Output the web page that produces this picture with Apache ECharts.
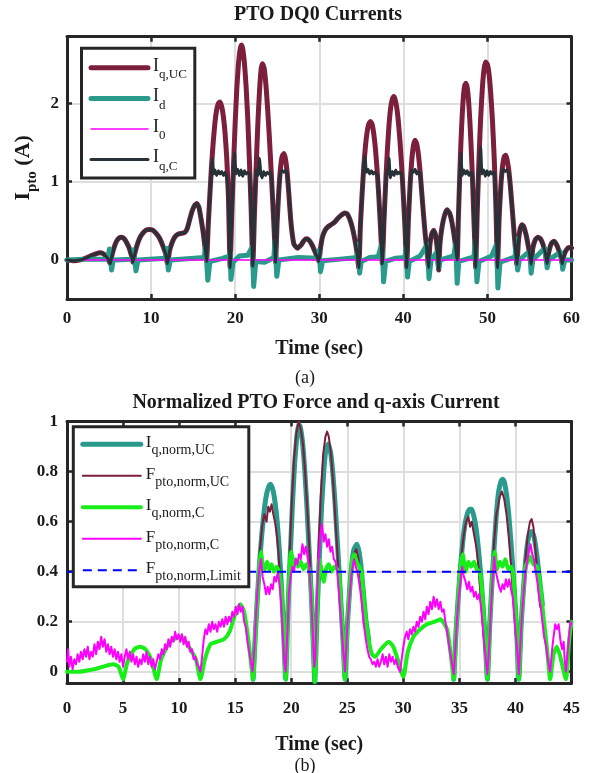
<!DOCTYPE html>
<html><head><meta charset="utf-8">
<script src="https://cdn.jsdelivr.net/npm/echarts@6/dist/echarts.min.js"></script>
<style>html,body{margin:0;padding:0;background:#fff}#c{width:595px;height:773px}</style>
</head><body><div id="c"></div><script>
// ---------- (a) PTO DQ0 currents : [time s, current A] ----------
const iqUC = [[0,0],[0.8,-0.01],[1.6,0],[2.4,0.03],[3.0,0.06],[3.5,0.08],[3.9,0.09],[4.3,0.08],[4.6,0.05],[4.9,0.01],[5.15,-0.05],[5.35,0.06],[5.6,0.16],[5.9,0.24],[6.2,0.28],[6.5,0.29],[6.8,0.27],[7.1,0.22],[7.4,0.15],[7.65,0.06],[7.85,-0.03],[8.1,0.1],[8.4,0.21],[8.7,0.29],[9.0,0.34],[9.4,0.38],[9.8,0.39],[10.2,0.38],[10.6,0.34],[11.0,0.28],[11.4,0.18],[11.7,0.09],[11.95,-0.05],[12.2,0.12],[12.5,0.22],[12.8,0.29],[13.2,0.33],[13.6,0.34],[14.0,0.35],[14.3,0.4],[14.6,0.52],[14.9,0.63],[15.2,0.7],[15.45,0.72],[15.7,0.67],[15.95,0.52],[16.2,0.35],[16.4,0.17],[16.6,-0.02],[16.8,0.45],[17.0,0.85],[17.2,1.22],[17.4,1.52],[17.6,1.76],[17.8,1.92],[18.0,2.0],[18.2,2.02],[18.4,1.96],[18.6,1.83],[18.8,1.62],[19.0,1.3],[19.2,0.8],[19.4,-0.1],[19.6,0.6],[19.8,1.2],[20.0,1.75],[20.2,2.2],[20.4,2.52],[20.6,2.7],[20.75,2.75],[20.9,2.7],[21.1,2.52],[21.3,2.22],[21.5,1.8],[21.7,1.25],[21.9,0.65],[22.1,-0.08],[22.3,0.6],[22.5,1.2],[22.7,1.75],[22.9,2.17],[23.1,2.45],[23.25,2.51],[23.45,2.45],[23.65,2.25],[23.85,1.95],[24.05,1.6],[24.25,1.2],[24.45,0.78],[24.65,0.35],[24.8,-0.03],[25.0,0.5],[25.2,0.9],[25.4,1.18],[25.6,1.33],[25.8,1.36],[26.0,1.28],[26.2,1.1],[26.4,0.82],[26.6,0.52],[26.8,0.32],[27.0,0.2],[27.4,0.15],[27.9,0.2],[28.2,0.25],[28.5,0.27],[28.8,0.25],[29.1,0.2],[29.4,0.13],[29.7,0.05],[29.95,-0.02],[30.15,0.15],[30.4,0.3],[30.7,0.38],[31.0,0.42],[31.4,0.45],[31.8,0.48],[32.2,0.53],[32.6,0.57],[33.0,0.6],[33.3,0.59],[33.6,0.53],[33.9,0.43],[34.2,0.28],[34.45,0.12],[34.7,-0.1],[34.9,0.45],[35.1,0.85],[35.3,1.2],[35.5,1.46],[35.7,1.64],[35.9,1.74],[36.1,1.77],[36.3,1.73],[36.5,1.6],[36.7,1.4],[36.9,1.12],[37.1,0.78],[37.3,0.38],[37.5,-0.05],[37.7,0.5],[37.9,0.98],[38.1,1.4],[38.3,1.73],[38.5,1.95],[38.7,2.06],[38.85,2.09],[39.0,2.06],[39.2,1.96],[39.4,1.78],[39.6,1.52],[39.8,1.2],[40.0,0.82],[40.2,0.4],[40.4,-0.1],[40.6,0.5],[40.8,0.95],[41.0,1.27],[41.2,1.46],[41.4,1.53],[41.6,1.48],[41.8,1.34],[42.0,1.12],[42.2,0.85],[42.4,0.58],[42.6,0.33],[42.8,0.12],[43.0,-0.1],[43.15,0.18],[43.35,0.32],[43.6,0.38],[43.8,0.33],[44.0,0.18],[44.2,-0.13],[44.35,0.2],[44.6,0.42],[44.9,0.57],[45.2,0.64],[45.5,0.6],[45.8,0.47],[46.1,0.27],[46.4,0.0],[46.55,0.55],[46.7,1.05],[46.85,1.5],[47.0,1.85],[47.15,2.1],[47.3,2.23],[47.45,2.26],[47.6,2.2],[47.75,2.05],[47.9,1.8],[48.05,1.48],[48.2,1.1],[48.35,0.65],[48.5,0.2],[48.6,-0.1],[48.8,0.65],[49.0,1.3],[49.2,1.82],[49.4,2.2],[49.6,2.44],[49.8,2.53],[50.0,2.5],[50.2,2.37],[50.4,2.12],[50.6,1.78],[50.8,1.32],[51.0,0.72],[51.2,-0.1],[51.4,0.55],[51.6,0.95],[51.8,1.2],[52.0,1.32],[52.15,1.34],[52.3,1.3],[52.5,1.18],[52.7,0.98],[52.9,0.72],[53.1,0.45],[53.3,0.18],[53.5,-0.06],[53.7,0.25],[53.9,0.4],[54.1,0.45],[54.3,0.43],[54.6,0.32],[54.9,0.15],[55.2,-0.06],[55.4,0.15],[55.7,0.26],[56.0,0.29],[56.3,0.27],[56.6,0.2],[56.9,0.08],[57.1,-0.05],[57.3,0.1],[57.6,0.21],[57.9,0.24],[58.2,0.2],[58.5,0.12],[58.75,0.03],[58.9,-0.05],[59.1,0.06],[59.4,0.13],[59.7,0.16],[60,0.15]];
const iqC = [[0,0],[0.8,-0.01],[1.6,0],[2.4,0.03],[3.0,0.06],[3.5,0.08],[3.9,0.09],[4.3,0.08],[4.6,0.05],[4.9,0.01],[5.15,-0.05],[5.35,0.06],[5.6,0.16],[5.9,0.24],[6.2,0.28],[6.5,0.29],[6.8,0.27],[7.1,0.22],[7.4,0.15],[7.65,0.06],[7.85,-0.03],[8.1,0.1],[8.4,0.21],[8.7,0.29],[9.0,0.34],[9.4,0.38],[9.8,0.39],[10.2,0.38],[10.6,0.34],[11.0,0.28],[11.4,0.18],[11.7,0.09],[11.95,-0.05],[12.2,0.12],[12.5,0.22],[12.8,0.29],[13.2,0.33],[13.6,0.34],[14.0,0.35],[14.3,0.4],[14.6,0.52],[14.9,0.63],[15.2,0.7],[15.45,0.72],[15.7,0.67],[15.95,0.52],[16.2,0.35],[16.4,0.17],[16.6,-0.02],[16.8,0.45],[17.0,0.85],[17.15,1.1],[17.3,1.3],[17.45,1.1],[17.6,1.15],[17.8,1.08],[18.0,1.14],[18.2,1.1],[18.4,1.13],[18.6,1.08],[18.8,1.12],[19.0,1.05],[19.2,0.8],[19.4,-0.1],[19.6,0.6],[19.8,1.15],[19.95,1.37],[20.1,1.1],[20.3,1.16],[20.5,1.08],[20.7,1.15],[20.9,1.07],[21.1,1.14],[21.3,1.1],[21.5,1.12],[21.7,1.1],[21.9,0.65],[22.1,-0.08],[22.3,0.6],[22.5,1.15],[22.7,1.08],[22.9,1.3],[23.05,1.1],[23.2,1.05],[23.4,1.13],[23.6,1.08],[23.8,1.12],[24.0,1.1],[24.25,1.12],[24.45,0.78],[24.65,0.35],[24.8,-0.03],[25.0,0.5],[25.2,0.9],[25.4,1.12],[25.6,1.14],[25.8,1.12],[26.0,1.15],[26.2,1.1],[26.4,0.82],[26.6,0.52],[26.8,0.32],[27.0,0.2],[27.4,0.15],[27.9,0.2],[28.2,0.25],[28.5,0.27],[28.8,0.25],[29.1,0.2],[29.4,0.13],[29.7,0.05],[29.95,-0.02],[30.15,0.15],[30.4,0.3],[30.7,0.38],[31.0,0.42],[31.4,0.45],[31.8,0.48],[32.2,0.53],[32.6,0.57],[33.0,0.6],[33.3,0.59],[33.6,0.53],[33.9,0.43],[34.2,0.28],[34.45,0.12],[34.7,-0.1],[34.9,0.45],[35.1,0.85],[35.3,1.2],[35.45,1.33],[35.6,1.12],[35.8,1.16],[36.0,1.1],[36.2,1.14],[36.4,1.1],[36.6,1.12],[36.8,1.1],[36.95,1.08],[37.1,0.78],[37.3,0.38],[37.5,-0.05],[37.7,0.5],[37.9,0.98],[38.05,1.15],[38.15,1.1],[38.3,1.3],[38.45,1.05],[38.7,1.13],[38.9,1.08],[39.1,1.15],[39.3,1.1],[39.5,1.12],[39.7,1.1],[39.8,1.12],[40.0,0.82],[40.2,0.4],[40.4,-0.1],[40.6,0.5],[40.8,0.95],[40.95,1.15],[41.2,1.12],[41.4,1.16],[41.6,1.1],[41.8,1.13],[42.0,1.1],[42.2,0.85],[42.4,0.58],[42.6,0.33],[42.8,0.12],[43.0,-0.1],[43.15,0.18],[43.35,0.32],[43.6,0.38],[43.8,0.33],[44.0,0.18],[44.2,-0.13],[44.35,0.2],[44.6,0.42],[44.9,0.57],[45.2,0.64],[45.5,0.6],[45.8,0.47],[46.1,0.27],[46.4,0.0],[46.55,0.55],[46.7,1.05],[46.85,1.37],[47.0,1.08],[47.2,1.15],[47.4,1.1],[47.6,1.14],[47.8,1.08],[48.0,1.12],[48.2,1.1],[48.35,0.65],[48.5,0.2],[48.6,-0.1],[48.8,0.65],[48.95,1.1],[49.05,1.2],[49.2,1.44],[49.35,1.1],[49.55,1.15],[49.75,1.07],[49.95,1.14],[50.15,1.08],[50.35,1.13],[50.55,1.1],[50.75,1.12],[50.85,1.1],[51.0,0.72],[51.2,-0.1],[51.4,0.55],[51.6,0.95],[51.75,1.12],[51.9,1.16],[52.1,1.13],[52.3,1.15],[52.5,1.12],[52.7,0.98],[52.9,0.72],[53.1,0.45],[53.3,0.18],[53.5,-0.06],[53.7,0.25],[53.9,0.4],[54.1,0.45],[54.3,0.43],[54.6,0.32],[54.9,0.15],[55.2,-0.06],[55.4,0.15],[55.7,0.26],[56.0,0.29],[56.3,0.27],[56.6,0.2],[56.9,0.08],[57.1,-0.05],[57.3,0.1],[57.6,0.21],[57.9,0.24],[58.2,0.2],[58.5,0.12],[58.75,0.03],[58.9,-0.05],[59.1,0.06],[59.4,0.13],[59.7,0.16],[60,0.15]];
const idCur = [[0,0],[2,0.01],[4.8,0.01],[5.05,0.14],[5.2,0.0],[5.3,-0.13],[5.5,0.0],[7.7,0.01],[7.9,0.13],[8.05,0.0],[8.2,-0.14],[8.45,0.0],[11.7,0.02],[11.85,0.15],[11.95,0.0],[12.05,-0.13],[12.3,0.0],[16.3,0.03],[16.5,0.19],[16.6,0.0],[16.75,-0.26],[17.0,-0.02],[18.5,0.02],[19.3,0.05],[19.4,0.1],[19.5,-0.25],[19.75,-0.03],[20.5,0.05],[21.5,0.06],[21.95,0.15],[22.1,0.0],[22.2,-0.34],[22.45,-0.02],[23.5,-0.03],[24.6,0.03],[24.75,0.26],[24.85,0.0],[24.95,-0.21],[25.2,0.0],[27.5,0.03],[29.8,0.02],[29.95,0.12],[30.05,0.0],[30.15,-0.15],[30.4,-0.01],[32.5,0.01],[34.5,0.03],[34.6,0.2],[34.7,0.0],[34.8,-0.17],[35.0,-0.02],[36.0,0.03],[37.0,0.04],[37.45,0.21],[37.55,0.0],[37.65,-0.28],[37.9,-0.02],[39.0,0.02],[40.2,0.03],[40.3,0.15],[40.4,0.0],[40.5,-0.22],[40.7,-0.02],[42,0.05],[42.85,0.2],[42.95,0.0],[43.05,-0.24],[43.3,0.0],[44.0,0.1],[44.2,-0.1],[44.4,0.0],[46.0,0.05],[46.2,0.2],[46.3,0.0],[46.4,-0.3],[46.6,-0.02],[48.4,0.04],[48.55,0.25],[48.65,0.0],[48.75,-0.28],[49.0,-0.02],[50.5,0.05],[51.05,0.19],[51.15,0.0],[51.25,-0.36],[51.5,-0.03],[53.3,0.04],[53.4,0.27],[53.5,0.0],[53.6,-0.13],[53.8,0.0],[54.9,0.1],[55.1,0.0],[55.2,-0.17],[55.4,0.0],[56.8,0.15],[57.0,0.0],[57.1,-0.1],[57.3,0.0],[58.7,0.1],[58.85,0.0],[58.95,-0.12],[59.2,0.0],[60,0.0]];
const i0Cur = [[0,0],[60,0]];

// ---------- (b) normalized force and q-axis current : [time s, p.u.] ----------
const iqNormUC = [[16.6,-0.03],[16.8,0.15],[17.0,0.31],[17.2,0.45],[17.4,0.56],[17.6,0.65],[17.8,0.71],[18.0,0.74],[18.15,0.75],[18.35,0.73],[18.55,0.68],[18.75,0.6],[18.95,0.48],[19.15,0.32],[19.35,0.13],[19.5,-0.03],[19.7,0.24],[19.9,0.45],[20.1,0.66],[20.3,0.83],[20.5,0.94],[20.65,0.99],[20.8,0.98],[21.0,0.92],[21.2,0.81],[21.4,0.66],[21.6,0.48],[21.8,0.3],[21.95,0.13],[22.1,-0.04],[22.3,0.22],[22.5,0.45],[22.7,0.65],[22.9,0.8],[23.1,0.89],[23.3,0.91],[23.5,0.88],[23.7,0.8],[23.9,0.68],[24.1,0.53],[24.3,0.38],[24.5,0.22],[24.65,0.1],[24.8,-0.03],[25.0,0.18],[25.2,0.32],[25.4,0.43],[25.6,0.49],[25.85,0.51],[26.05,0.48],[26.25,0.41],[26.45,0.31],[26.65,0.21],[26.9,0.13],[26.9,null],[34.5,-0.03],[34.7,0.16],[34.9,0.3],[35.1,0.42],[35.3,0.52],[35.5,0.59],[35.7,0.63],[35.9,0.65],[36.1,0.65],[36.3,0.62],[36.5,0.57],[36.7,0.49],[36.9,0.39],[37.1,0.27],[37.3,0.13],[37.5,-0.03],[37.7,0.18],[37.9,0.35],[38.1,0.5],[38.3,0.63],[38.5,0.72],[38.7,0.76],[38.85,0.77],[39.0,0.76],[39.2,0.71],[39.4,0.63],[39.6,0.52],[39.8,0.39],[40.0,0.25],[40.15,0.12],[40.3,-0.03],[40.5,0.18],[40.7,0.32],[40.9,0.44],[41.1,0.52],[41.3,0.56],[41.5,0.56],[41.7,0.53],[41.9,0.47],[42.1,0.39],[42.3,0.31],[42.4,0.27]];
const fNormUC = [[16.85,0.22],[17.0,0.33],[17.2,0.48],[17.4,0.58],[17.6,0.63],[17.8,0.6],[17.95,0.66],[18.1,0.64],[18.25,0.67],[18.4,0.63],[18.55,0.6],[18.7,0.55],[18.85,0.48],[19.0,0.38],[19.15,0.26],[19.3,0.12],[19.5,0.0],[19.65,0.2],[19.85,0.46],[20.05,0.68],[20.25,0.85],[20.45,0.95],[20.65,1.0],[20.85,0.97],[21.05,0.91],[21.25,0.79],[21.45,0.64],[21.65,0.46],[21.85,0.26],[22.05,0.02],[22.25,0.24],[22.45,0.5],[22.65,0.72],[22.85,0.87],[23.05,0.94],[23.2,0.96],[23.35,0.94],[23.55,0.87],[23.75,0.75],[23.95,0.6],[24.15,0.45],[24.35,0.3],[24.55,0.15],[24.8,0.0],[25.0,0.18],[25.2,0.32],[25.4,0.42],[25.6,0.47],[25.8,0.49],[26.0,0.45],[26.2,0.35],[26.35,0.25],[26.5,0.18],[26.5,null],[34.8,0.22],[35.0,0.35],[35.2,0.47],[35.4,0.55],[35.6,0.6],[35.8,0.62],[35.95,0.58],[36.1,0.6],[36.3,0.55],[36.5,0.5],[36.7,0.42],[36.9,0.3],[37.1,0.18],[37.3,0.07],[37.5,-0.01],[37.7,0.15],[37.9,0.36],[38.1,0.52],[38.3,0.63],[38.45,0.66],[38.6,0.7],[38.8,0.72],[39.0,0.69],[39.2,0.63],[39.4,0.54],[39.6,0.43],[39.8,0.3],[40.0,0.17],[40.3,-0.01],[40.5,0.15],[40.7,0.32],[40.9,0.45],[41.1,0.55],[41.3,0.6],[41.45,0.61],[41.6,0.58],[41.8,0.48],[42.0,0.36],[42.2,0.26]];
const iqNormC = [[0,0],[1.0,0.0],[2.4,0.01],[3.2,0.02],[4.1,0.03],[4.6,0.02],[5.0,-0.03],[5.4,0.04],[6.0,0.09],[6.5,0.1],[7.0,0.09],[7.5,0.05],[8.0,-0.03],[8.4,0.05],[9.2,0.12],[10.1,0.14],[10.6,0.12],[11.0,0.09],[11.5,0.05],[11.9,-0.03],[12.3,0.05],[12.8,0.11],[13.4,0.12],[14.0,0.13],[14.5,0.16],[15.0,0.23],[15.45,0.27],[15.8,0.24],[16.2,0.12],[16.6,-0.03],[16.8,0.15],[17.0,0.31],[17.15,0.42],[17.3,0.48],[17.45,0.43],[17.65,0.41],[17.85,0.44],[18.05,0.41],[18.25,0.43],[18.45,0.4],[18.7,0.42],[18.9,0.4],[19.15,0.32],[19.35,0.13],[19.5,-0.03],[19.7,0.24],[19.9,0.45],[20.0,0.48],[20.2,0.42],[20.4,0.45],[20.6,0.42],[20.85,0.44],[21.1,0.41],[21.35,0.43],[21.6,0.41],[21.8,0.3],[21.95,0.13],[22.1,-0.04],[22.3,0.22],[22.5,0.45],[22.65,0.42],[22.9,0.36],[23.1,0.41],[23.35,0.43],[23.6,0.4],[23.85,0.42],[24.1,0.41],[24.3,0.38],[24.5,0.22],[24.65,0.1],[24.8,-0.03],[25.0,0.18],[25.2,0.32],[25.4,0.43],[25.6,0.47],[25.85,0.44],[26.05,0.42],[26.25,0.4],[26.45,0.31],[26.65,0.21],[26.9,0.13],[27.2,0.07],[27.5,0.06],[28.0,0.09],[28.7,0.12],[29.1,0.1],[29.5,0.05],[30.0,-0.02],[30.4,0.08],[30.9,0.14],[31.5,0.17],[32.1,0.19],[32.8,0.2],[33.3,0.21],[33.9,0.17],[34.2,0.08],[34.5,-0.03],[34.7,0.16],[34.9,0.3],[35.1,0.42],[35.3,0.47],[35.55,0.4],[35.8,0.44],[36.05,0.42],[36.3,0.44],[36.55,0.41],[36.8,0.4],[36.95,0.36],[37.1,0.27],[37.3,0.13],[37.5,-0.03],[37.7,0.18],[37.9,0.35],[38.05,0.45],[38.15,0.48],[38.35,0.41],[38.6,0.44],[38.85,0.42],[39.1,0.45],[39.35,0.41],[39.6,0.42],[39.8,0.39],[40.0,0.25],[40.15,0.12],[40.3,-0.03],[40.5,0.18],[40.7,0.32],[40.9,0.42],[41.1,0.44],[41.3,0.46],[41.6,0.43],[41.9,0.42],[42.1,0.38],[42.3,0.31],[42.5,0.22],[42.8,0.1],[43.1,-0.03],[43.4,0.07],[43.7,0.1],[44.0,0.06],[44.5,-0.03],[44.8,0.13],[45,0.2]];
const fNormC = [[0,0.04],[0.1,0.09],[0.2,0.02],[0.35,0.06],[0.5,0.01],[0.65,0.05],[0.8,0.03],[0.95,0.07],[1.1,0.04],[1.25,0.08],[1.4,0.05],[1.55,0.09],[1.7,0.06],[1.85,0.1],[2.0,0.05],[2.15,0.08],[2.3,0.06],[2.45,0.11],[2.6,0.07],[2.75,0.12],[2.9,0.09],[3.05,0.14],[3.2,0.1],[3.35,0.13],[3.5,0.08],[3.65,0.11],[3.8,0.07],[3.95,0.1],[4.1,0.06],[4.25,0.09],[4.4,0.05],[4.55,0.08],[4.7,0.04],[4.85,0.07],[5.0,0.02],[5.15,0.06],[5.3,0.09],[5.45,0.05],[5.6,0.08],[5.75,0.04],[5.9,0.07],[6.05,0.03],[6.2,0.06],[6.35,0.02],[6.5,0.05],[6.65,0.03],[6.8,0.07],[6.95,0.04],[7.1,0.08],[7.25,0.03],[7.4,0.06],[7.55,0.02],[7.7,0.05],[7.85,0.01],[8.0,0.04],[8.15,0.07],[8.3,0.05],[8.45,0.09],[8.6,0.07],[8.75,0.11],[8.9,0.09],[9.05,0.13],[9.2,0.1],[9.35,0.14],[9.5,0.12],[9.65,0.16],[9.8,0.13],[9.95,0.15],[10.1,0.12],[10.25,0.15],[10.4,0.11],[10.55,0.14],[10.7,0.1],[10.85,0.12],[11.0,0.08],[11.15,0.09],[11.3,0.05],[11.45,0.06],[11.6,0.03],[11.75,0.02],[11.9,0.0],[12.05,0.06],[12.2,0.13],[12.35,0.17],[12.5,0.15],[12.65,0.19],[12.8,0.16],[12.95,0.2],[13.1,0.17],[13.25,0.19],[13.4,0.16],[13.55,0.2],[13.7,0.18],[13.85,0.21],[14.0,0.18],[14.15,0.22],[14.3,0.19],[14.45,0.22],[14.6,0.2],[14.75,0.24],[14.9,0.22],[15.05,0.26],[15.2,0.23],[15.35,0.27],[15.5,0.24],[15.65,0.26],[15.8,0.2],[15.95,0.18],[16.1,0.12],[16.25,0.08],[16.4,0.04],[16.55,0.0],[16.7,0.08],[16.85,0.22],[17.0,0.33],[17.15,0.41],[17.3,0.45],[17.45,0.38],[17.6,0.35],[17.75,0.31],[17.9,0.34],[18.05,0.31],[18.2,0.35],[18.35,0.33],[18.5,0.38],[18.65,0.36],[18.8,0.4],[18.95,0.35],[19.1,0.28],[19.25,0.15],[19.4,0.03],[19.5,0.0],[19.65,0.15],[19.8,0.32],[19.95,0.38],[20.1,0.42],[20.25,0.4],[20.4,0.45],[20.55,0.43],[20.7,0.47],[20.85,0.45],[21.0,0.51],[21.15,0.47],[21.3,0.5],[21.45,0.46],[21.6,0.42],[21.75,0.32],[21.9,0.18],[22.05,0.02],[22.15,0.05],[22.3,0.3],[22.45,0.45],[22.6,0.55],[22.75,0.59],[22.9,0.52],[23.05,0.55],[23.2,0.5],[23.35,0.53],[23.5,0.48],[23.65,0.5],[23.8,0.45],[23.95,0.44],[24.1,0.4],[24.25,0.32],[24.45,0.2],[24.65,0.08],[24.8,0.0],[25.0,0.18],[25.2,0.3],[25.4,0.4],[25.6,0.45],[25.75,0.42],[25.9,0.4],[26.05,0.36],[26.2,0.31],[26.35,0.25],[26.5,0.18],[26.65,0.13],[26.8,0.09],[26.95,0.06],[27.1,0.05],[27.25,0.03],[27.4,0.04],[27.55,0.02],[27.7,0.05],[27.85,0.02],[28.0,0.04],[28.15,0.07],[28.3,0.03],[28.45,0.06],[28.6,0.02],[28.75,0.07],[28.9,0.04],[29.05,0.06],[29.2,0.03],[29.35,0.05],[29.5,0.02],[29.7,0.0],[29.85,0.05],[30.0,0.1],[30.15,0.14],[30.3,0.16],[30.45,0.13],[30.6,0.17],[30.75,0.15],[30.9,0.18],[31.05,0.16],[31.2,0.2],[31.35,0.18],[31.5,0.22],[31.65,0.2],[31.8,0.24],[31.95,0.21],[32.1,0.26],[32.25,0.23],[32.4,0.28],[32.55,0.25],[32.7,0.3],[32.85,0.26],[33.0,0.29],[33.15,0.25],[33.3,0.28],[33.45,0.24],[33.6,0.25],[33.75,0.2],[33.9,0.16],[34.05,0.11],[34.2,0.07],[34.35,0.03],[34.5,-0.01],[34.65,0.1],[34.8,0.22],[34.95,0.3],[35.1,0.36],[35.25,0.42],[35.4,0.38],[35.55,0.36],[35.7,0.33],[35.85,0.36],[36.0,0.32],[36.15,0.34],[36.3,0.3],[36.45,0.32],[36.6,0.29],[36.75,0.31],[36.9,0.27],[37.05,0.2],[37.2,0.12],[37.35,0.05],[37.5,-0.01],[37.65,0.1],[37.8,0.24],[37.95,0.36],[38.1,0.46],[38.25,0.4],[38.4,0.37],[38.55,0.34],[38.7,0.32],[38.85,0.35],[39.0,0.33],[39.15,0.37],[39.3,0.34],[39.45,0.37],[39.6,0.33],[39.75,0.3],[39.9,0.22],[40.05,0.14],[40.2,0.06],[40.3,-0.01],[40.45,0.12],[40.6,0.24],[40.75,0.33],[40.9,0.4],[41.05,0.44],[41.2,0.48],[41.35,0.51],[41.5,0.47],[41.65,0.45],[41.8,0.4],[41.95,0.36],[42.1,0.3],[42.25,0.26],[42.4,0.2],[42.55,0.14],[42.7,0.11],[42.85,0.06],[43.0,0.02],[43.1,0.0],[43.25,0.08],[43.4,0.14],[43.55,0.19],[43.7,0.17],[43.85,0.19],[44.0,0.13],[44.15,0.09],[44.3,0.12],[44.4,0.04],[44.5,0.0],[44.65,0.08],[44.8,0.15],[44.9,0.2],[45,0.19]];
const fLimit = [[0,0.4],[45,0.4]];

// ---------- ticks ----------
const ticksA_y = [0,1,2];
const ticksB_y = [0,0.2,0.4,0.6,0.8,1];

const FONT = 'Liberation Serif';
const TXT = '#1a1a1a';
const AX = '#262626';
const GRIDC = '#dedede';
const C_MAROON = '#7c1f3b', C_TEAL = '#2a9a8d', C_MAG = '#ff00ff', C_DARK = '#263238', C_GREEN = '#18ee18', C_BLUE = '#0000ff';

const legendRich = {
  'Iq,UC':'{m|I}{s|q,UC}', 'Id':'{m|I}{s|d}', 'I0':'{m|I}{s|0}', 'Iq,C':'{m|I}{s|q,C}',
  'Iq,norm,UC':'{m|I}{s|q,norm,UC}', 'Fpto,norm,UC':'{m|F}{s|pto,norm,UC}',
  'Iq,norm,C':'{m|I}{s|q,norm,C}', 'Fpto,norm,C':'{m|F}{s|pto,norm,C}',
  'Fpto,norm,Limit':'{m|F}{s|pto,norm,Limit}'
};

function xAx(grid, max, interval, mirror, nameGap, margin) {
  return {
    type:'value', gridIndex:grid, min:0, max:max, interval:interval,
    position: mirror ? 'top' : 'bottom',
    axisLine:{show:true, onZero:false, lineStyle:{color:AX, width:3}},
    axisTick:{show:true, inside:true, length:5, lineStyle:{color:AX, width:2.5}},
    axisLabel:{show:!mirror, color:TXT, fontFamily:FONT, fontWeight:'bold', fontSize:17, margin:margin},
    splitLine:{show:!mirror, lineStyle:{color:GRIDC, width:2}},
    name: mirror ? '' : 'Time (sec)', nameLocation:'middle', nameGap:nameGap,
    nameTextStyle:{color:TXT, fontFamily:FONT, fontWeight:'bold', fontSize:20}
  };
}
function yAx(grid, min, max, ticks, mirror, margin) {
  return {
    type:'value', gridIndex:grid, min:min, max:max,
    position: mirror ? 'right' : 'left',
    axisLine:{show:true, onZero:false, lineStyle:{color:AX, width:3}},
    axisTick:{show:true, inside:true, length:5, customValues:ticks, lineStyle:{color:AX, width:2.5}},
    axisLabel:{show:!mirror, customValues:ticks, color:TXT, fontFamily:FONT, fontWeight:'bold', fontSize:17, margin:margin,
               formatter: v => String(Math.round(v*10)/10)},
    splitLine:{show:!mirror, lineStyle:{color:GRIDC, width:2}}
  };
}

const yA = yAx(0, -0.5, 2.855, ticksA_y, false, 8);
yA.name = '{m|I}{s|pto}{m| (A)}';
yA.nameLocation = 'middle';
yA.nameRotate = 90;
yA.nameGap = 29;
yA.nameTextStyle = {rich:{
  m:{fontFamily:FONT, fontWeight:'bold', fontSize:22, color:TXT, lineHeight:26, verticalAlign:'top'},
  s:{fontFamily:FONT, fontWeight:'bold', fontSize:15, color:TXT, lineHeight:15, padding:[14,0,0,0]}
}};

const lineS = (name, data, color, width, xi, yi, extra) => Object.assign({
  type:'line', name:name, data:data, xAxisIndex:xi, yAxisIndex:yi,
  symbol:'none', showSymbol:false, connectNulls:false, clip:true,
  lineStyle:{color:color, width:width, cap:'round', join:'round'}, itemStyle:{color:color},
  emphasis:{disabled:true}, silent:true
}, extra || {});

const legItem = (name, color, width, type) => ({name:name, lineStyle:{color:color, width:width, type:type||'solid', opacity:1}, itemStyle:{opacity:0}});

const option = {
  animation:false,
  backgroundColor:'#ffffff',
  grid:[
    {left:67, top:36.7, width:504.5, height:262.3},
    {left:67, top:421.6, width:504.5, height:261.4}
  ],
  xAxis:[ xAx(0,60,10,false,40,11), xAx(0,60,10,true,0,0), xAx(1,45,5,false,52,17), xAx(1,45,5,true,0,0) ],
  yAxis:[ yA, yAx(0,-0.5,2.855,ticksA_y,true,0), yAx(1,-0.045,1,ticksB_y,false,9), yAx(1,-0.045,1,ticksB_y,true,0) ],
  legend:[
    {orient:'vertical', left:81.5, top:48.3,
     data:[legItem('Iq,UC',C_MAROON,5), legItem('Id',C_TEAL,5), legItem('I0',C_MAG,1.5), legItem('Iq,C',C_DARK,3)],
     backgroundColor:'#fff', borderColor:AX, borderWidth:3, borderRadius:0,
     padding:[6,8,5,7], itemWidth:57, itemHeight:14, itemGap:3.6, itemTextGap:5, selectedMode:false,
     itemStyle:{opacity:0},
     formatter: n => legendRich[n],
     textStyle:{rich:{
       m:{fontFamily:FONT, fontSize:18, color:TXT, lineHeight:22, verticalAlign:'top'},
       s:{fontFamily:FONT, fontSize:13, color:TXT, lineHeight:14, padding:[14,0,0,0]}
     }}},
    {orient:'vertical', left:73.3, top:426.7,
     data:[legItem('Iq,norm,UC',C_TEAL,5), legItem('Fpto,norm,UC',C_MAROON,2), legItem('Iq,norm,C',C_GREEN,4), legItem('Fpto,norm,C',C_MAG,2), legItem('Fpto,norm,Limit',C_BLUE,2,[9,6])],
     backgroundColor:'#fff', borderColor:AX, borderWidth:3, borderRadius:0,
     padding:[4,8,3,7], itemWidth:58, itemHeight:14, itemGap:4.5, itemTextGap:5, selectedMode:false,
     itemStyle:{opacity:0},
     formatter: n => legendRich[n],
     textStyle:{rich:{
       m:{fontFamily:FONT, fontSize:17, color:TXT, lineHeight:20, verticalAlign:'top'},
       s:{fontFamily:FONT, fontSize:14, color:TXT, lineHeight:14, padding:[13,0,0,0]}
     }}}
  ],
  graphic:[
    {type:'text', x:318, y:15, style:{text:'PTO DQ0 Currents', font:'bold 20px "Liberation Serif"', fill:TXT, align:'center', verticalAlign:'middle'}},
    {type:'text', x:305, y:378, style:{text:'(a)', font:'18px "Liberation Serif"', fill:TXT, align:'center', verticalAlign:'middle'}},
    {type:'text', x:316, y:403, style:{text:'Normalized PTO Force and q-axis Current', font:'bold 20px "Liberation Serif"', fill:TXT, align:'center', verticalAlign:'middle'}},
    {type:'text', x:305, y:766, style:{text:'(b)', font:'18px "Liberation Serif"', fill:TXT, align:'center', verticalAlign:'middle'}}
  ],
  series:[
    lineS('Iq,UC', iqUC, C_MAROON, 5, 0, 0, {smooth:0.15}),
    lineS('Id', idCur, C_TEAL, 5, 0, 0),
    lineS('I0', i0Cur, C_MAG, 1.5, 0, 0),
    lineS('Iq,C', iqC, C_DARK, 3, 0, 0, {smooth:0.15}),
    lineS('Iq,norm,UC', iqNormUC, C_TEAL, 5, 2, 2, {smooth:0.15}),
    lineS('Fpto,norm,UC', fNormUC, C_MAROON, 2, 2, 2),
    lineS('Iq,norm,C', iqNormC, C_GREEN, 4, 2, 2, {smooth:0.2}),
    lineS('Fpto,norm,C', fNormC, C_MAG, 2, 2, 2),
    lineS('Fpto,norm,Limit', fLimit, C_BLUE, 2, 2, 2, {lineStyle:{color:C_BLUE, width:2, type:[9,6]}})
  ]
};
const chart = echarts.init(document.getElementById('c'), null, {renderer:'canvas'});
chart.setOption(option);
</script></body></html>
